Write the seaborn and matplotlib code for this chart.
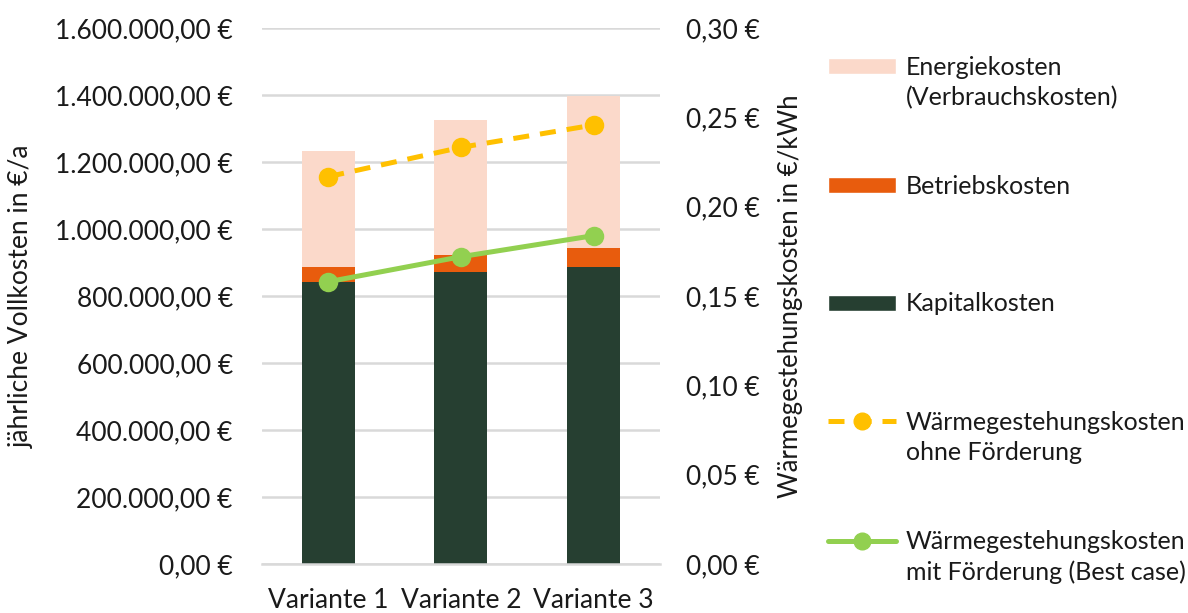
import matplotlib
matplotlib.use("Agg")
import matplotlib.pyplot as plt
import matplotlib.ticker as mticker
from matplotlib.patches import Patch
from matplotlib.lines import Line2D
import seaborn as sns
import pandas as pd

# data
varianten = ["Variante 1", "Variante 2", "Variante 3"]
kapitalkosten = [842000, 873000, 886000]
betriebskosten = [44000, 50000, 58000]
energiekosten = [346000, 402000, 453000]
wgk_ohne = [0.2168, 0.2332, 0.2457]
wgk_mit = [0.1580, 0.1720, 0.1838]

C_ENERGIE = "#FBD9CA"
C_BETRIEB = "#E85C0D"
C_KAPITAL = "#263F31"
C_OHNE = "#FFC000"
C_MIT = "#92D050"
C_GRID = "#D9D9D9"
C_TEXT = "#1a1a1a"

df = pd.DataFrame({
    "Variante": varianten,
    "Kapital": kapitalkosten,
    "Betrieb": betriebskosten,
    "Energie": energiekosten,
    "ohne": wgk_ohne,
    "mit": wgk_mit,
})
df["stack2"] = df["Kapital"] + df["Betrieb"]
df["stack3"] = df["stack2"] + df["Energie"]

sns.set_style("white")
plt.rcParams["font.family"] = ["Lato", "DejaVu Sans"]
FS = 19
FS_LEG = 18

fig = plt.figure(figsize=(11.88, 6.13), dpi=100)
ax = fig.add_axes([0.2205, 0.0799, 0.3350, 0.8744])

# stacked bars drawn as overlaid cumulative totals
for col, colour in [("stack3", C_ENERGIE), ("stack2", C_BETRIEB), ("Kapital", C_KAPITAL)]:
    sns.barplot(data=df, x="Variante", y=col, color=colour, width=0.4,
                saturation=1, linewidth=0, ax=ax, zorder=2)

ax.set_ylim(0, 1600000)
ax.set_xlim(-0.5, 2.5)
ax.yaxis.set_major_locator(mticker.MultipleLocator(200000))


def euro(v, pos=None, dec=2):
    s = f"{v:,.{dec}f}".replace(",", "X").replace(".", ",").replace("X", ".")
    return s + " €"


ax.yaxis.set_major_formatter(mticker.FuncFormatter(lambda v, p: euro(v)))
ax.grid(axis="y", color=C_GRID, linewidth=1.8, zorder=0)
ax.set_axisbelow(True)
for s in ["top", "left", "right"]:
    ax.spines[s].set_visible(False)
ax.spines["bottom"].set_color(C_GRID)
ax.spines["bottom"].set_linewidth(1.8)
ax.tick_params(axis="y", length=0, labelsize=FS, pad=21, colors=C_TEXT)
ax.tick_params(axis="x", which="major", length=0, labelsize=FS, pad=17,
               colors=C_TEXT)
ax.set_xticks([-0.5, 0.5, 1.5, 2.5], minor=True)
ax.tick_params(axis="x", which="minor", length=7, width=1.8, color=C_GRID,
               direction="out")
ax.set_xlabel("")
ax.set_ylabel("jährliche Vollkosten in €/a", fontsize=FS, color=C_TEXT)
ax.yaxis.set_label_coords(-0.572, 0.5)

# secondary axis with heat generation costs
ax2 = ax.twinx()
sns.pointplot(data=df, x="Variante", y="ohne", color=C_OHNE, errorbar=None,
              ax=ax2, linestyles="--", markers="o")
sns.pointplot(data=df, x="Variante", y="mit", color=C_MIT, errorbar=None,
              ax=ax2, markers="o")
for ln, style in zip(ax2.lines, ["ohne", "mit"]):
    ln.set_linewidth(3.6)
    ln.set_markersize(12)
    ln.set_zorder(5)
    if style == "ohne":
        ln.set_dashes((3.2, 2.2))
ax2.set_ylim(0, 0.30)
ax2.set_xlim(-0.5, 2.5)
ax2.yaxis.set_major_locator(mticker.MultipleLocator(0.05))
ax2.yaxis.set_major_formatter(mticker.FuncFormatter(lambda v, p: euro(v)))
for s in ["top", "left", "right", "bottom"]:
    ax2.spines[s].set_visible(False)
ax2.tick_params(axis="y", length=0, labelsize=FS, pad=19, colors=C_TEXT)
ax2.set_ylabel("Wärmegestehungskosten in €/kWh", fontsize=18.5, color=C_TEXT)
ax2.yaxis.set_label_coords(1.2965, 0.5)
ax2.set_xlabel("")

# legend: handle sits beside the first line, continuation line below it
blank = Patch(alpha=0)
entries = [
    (Patch(facecolor=C_ENERGIE), ["Energiekosten", "(Verbrauchskosten)"], 0.909),
    (Patch(facecolor=C_BETRIEB), ["Betriebskosten"], 0.715),
    (Patch(facecolor=C_KAPITAL), ["Kapitalkosten"], 0.523),
    (Line2D([], [], color=C_OHNE, lw=3.6, dashes=(3.2, 2.2), marker="o",
            markersize=12), ["Wärmegestehungskosten", "ohne Förderung"], 0.330),
    (Line2D([], [], color=C_MIT, lw=3.6, marker="o", markersize=12),
     ["Wärmegestehungskosten", "mit Förderung (Best case)"], 0.135),
]
for handle, lines, yy in entries:
    handles = [handle] + [blank] * (len(lines) - 1)
    fig.legend(handles, lines, loc="upper left",
               bbox_to_anchor=(0.697, yy), frameon=False, fontsize=FS_LEG,
               handlelength=2.7, handleheight=0.6, handletextpad=0.4,
               labelspacing=0.3, borderpad=0, borderaxespad=0,
               labelcolor=C_TEXT)

fig.savefig("out.png", dpi=100)
